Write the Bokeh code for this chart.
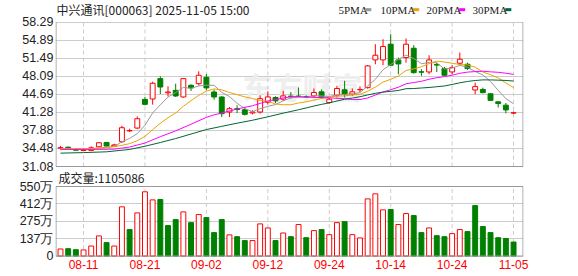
import pandas as pd
from bokeh.plotting import figure
from bokeh.models import Range1d, FixedTicker, Label, Grid, ColumnDataSource
from bokeh.embed import file_html
from bokeh.resources import INLINE

# ---------------- data ----------------
title_text = "中兴通讯[000063] 2025-11-05 15:00"
volume_title = "成交量:1105086"

dates = ["08-06", "08-07", "08-08", "08-11", "08-12", "08-13", "08-14", "08-15",
         "08-18", "08-19", "08-20", "08-21", "08-22", "08-25", "08-26", "08-27", "08-28", "08-29",
         "09-01", "09-02", "09-03", "09-04", "09-05", "09-08", "09-09", "09-10", "09-11", "09-12",
         "09-15", "09-16", "09-17", "09-18", "09-19", "09-22", "09-23", "09-24", "09-25", "09-26",
         "09-29", "09-30", "10-09", "10-10", "10-13", "10-14", "10-15", "10-16", "10-17",
         "10-20", "10-21", "10-22", "10-23", "10-24", "10-27", "10-28", "10-29", "10-30", "10-31",
         "11-03", "11-04", "11-05"]

opens = [34.55, 34.72, 34.30, 34.10, 34.11, 34.80, 35.62, 34.95, 35.75, 37.80,
         38.33, 43.74, 43.81, 47.65, 44.98, 45.44, 44.19, 46.39, 46.70, 47.90,
         45.13, 44.19, 41.35, 41.98, 41.79, 41.18, 41.35, 43.20, 44.09, 43.77,
         44.35, 44.35, 44.25, 44.40, 45.16, 43.14, 44.53, 45.54, 44.72, 45.55,
         45.95, 51.18, 51.18, 54.14, 51.18, 51.62, 53.38, 48.95, 48.91, 50.30,
         49.54, 48.91, 50.55, 50.36, 45.51, 45.60, 44.80, 43.27, 42.65, 41.15]
highs = [34.95, 34.85, 34.40, 34.30, 34.87, 35.60, 35.65, 35.37, 38.77, 38.20,
         40.53, 44.19, 47.08, 48.09, 46.20, 46.70, 47.70, 46.58, 49.03, 48.50,
         45.57, 44.31, 42.30, 42.61, 42.30, 41.67, 44.50, 45.25, 44.31, 45.35,
         45.13, 45.98, 44.50, 45.79, 45.60, 44.00, 46.29, 47.24, 45.79, 46.20,
         50.23, 54.14, 55.08, 56.03, 51.62, 55.21, 53.95, 49.42, 52.06, 50.67,
         49.86, 50.17, 52.56, 50.67, 46.90, 45.95, 44.85, 43.35, 43.05, 41.45]
lows = [34.30, 34.40, 34.05, 34.00, 33.98, 34.75, 34.90, 34.87, 35.56, 37.64,
        38.14, 42.61, 42.74, 44.75, 44.31, 44.19, 44.06, 45.32, 46.33, 45.40,
        43.68, 40.41, 40.41, 41.16, 40.72, 40.91, 41.04, 42.75, 43.05, 43.46,
        43.87, 44.10, 44.00, 44.09, 43.90, 42.90, 44.09, 44.09, 44.40, 45.10,
        45.76, 50.36, 50.17, 50.04, 48.47, 50.67, 48.60, 48.16, 48.47, 48.90,
        48.20, 48.47, 50.17, 49.29, 44.69, 44.88, 43.43, 42.20, 41.10, 40.95]
closes = [34.62, 34.49, 34.15, 34.20, 34.61, 35.56, 34.93, 35.15, 38.39, 37.85,
          40.09, 42.80, 46.77, 46.07, 45.13, 44.38, 47.65, 45.89, 48.28, 45.90,
          44.19, 41.04, 41.98, 41.83, 40.91, 41.35, 43.87, 44.20, 43.46, 44.40,
          44.25, 44.30, 44.20, 45.03, 44.09, 43.77, 45.79, 44.72, 45.16, 45.62,
          50.04, 52.06, 53.70, 50.17, 50.42, 54.14, 48.78, 48.86, 51.18, 50.20,
          48.28, 49.73, 51.30, 49.54, 46.14, 45.01, 43.55, 42.95, 41.75, 41.22]

# volume in 万 (10k), and whether the bar is drawn as "up" (hollow red)
vol_wan = [55.5, 58, 50, 48, 79, 159, 106, 79, 389, 209,
           341, 508, 444, 447, 241, 288, 349, 264, 328, 304,
           185, 288, 167, 153, 122, 122, 254, 222, 122, 182,
           153, 249, 145, 201, 209, 169, 264, 272, 169, 143,
           452, 492, 365, 368, 249, 336, 320, 185, 222, 161,
           153, 177, 209, 193, 399, 233, 185, 145, 138, 110.5]
vol_up = [1, 0, 0, 1, 1, 1, 0, 1, 1, 0,
          1, 1, 1, 0, 0, 0, 1, 0, 1, 0,
          0, 0, 1, 0, 0, 1, 1, 1, 0, 1,
          0, 1, 0, 1, 0, 1, 1, 0, 1, 1,
          1, 1, 1, 0, 1, 1, 0, 0, 1, 0,
          0, 1, 1, 0, 0, 0, 0, 0, 0, 0]

# moving averages: values for bars before each window is full
ma_windows = [5, 10, 20, 30]
ma_names = ["5PMA", "10PMA", "20PMA", "30PMA"]
ma5_early_idx = [0, 3]
ma5_early_val = [34.45, 34.40]
ma10_early_idx = [0, 4, 6, 8]
ma10_early_val = [34.40, 34.46, 34.60, 35.07]
ma20_early_idx = [0, 4, 7, 9, 11, 13, 15, 17]
ma20_early_val = [34.30, 34.30, 34.35, 34.75, 35.50, 36.70, 37.80, 39.05]
ma30_early_idx = [0, 3, 6, 9, 11, 13, 15, 17, 19, 21, 23, 25, 27]
ma30_early_val = [33.60, 33.70, 33.85, 34.30, 34.90, 35.60, 36.35, 37.20, 38.05, 38.65, 39.25, 39.80, 40.45]

price_tick_labels = ["31.08", "34.48", "37.88", "41.28", "44.69", "48.09", "51.49", "54.89", "58.29"]
vol_tick_values = [0, 137.5, 275, 412.5, 550]
vol_tick_labels = ["0", "137万", "275万", "412万", "550万"]
date_tick_labels = ["08-11", "08-21", "09-02", "09-12", "09-24", "10-14", "10-24", "11-05"]

# ---------------- styles ----------------
RED = "#ff0000"
GREEN = "#008000"
GRID = "#cccccc"
FRAME = "#999999"
TEXT = "#222222"
MA_COLORS = ["#999999", "#f0a000", "#ff00ff", "#006633"]

n = len(dates)
df = pd.DataFrame({"i": list(range(n)), "o": opens, "h": highs, "l": lows, "c": closes,
                   "v": vol_wan})
df["top"] = df[["o", "c"]].max(axis=1)
df["bot"] = df[["o", "c"]].min(axis=1)
df["col"] = [RED if c >= o else GREEN for o, c in zip(opens, closes)]
df["fill"] = ["white" if c >= o else GREEN for o, c in zip(opens, closes)]
df["vcol"] = [RED if u else GREEN for u in vol_up]
df["vfill"] = ["white" if u else GREEN for u in vol_up]
src = ColumnDataSource(df)

price_ticks = [float(s) for s in price_tick_labels]
tick_idx = [dates.index(d) for d in date_tick_labels]
P_LO, P_HI = price_ticks[0], price_ticks[-1]
V_LO, V_HI = vol_tick_values[0], vol_tick_values[-1]

# ---------------- layout geometry (canvas pixels) ----------------
W, H = 578, 276
FL, FR, FB = 55, 523, 257          # frame left / right / bottom (top = 0)
BAR0_PX, BAR_STEP = 60.0, 7.679    # first bar centre and bar spacing
PX_TOP, PX_BOT = 21.7, 166.0       # price panel top / bottom
VX_TOP, VX_BOT = 186.0, 255.5      # volume panel top / bottom

X0 = (FL - BAR0_PX) / BAR_STEP
X1 = (FR - BAR0_PX) / BAR_STEP
kp = (P_HI - P_LO) / (PX_BOT - PX_TOP)
kv = (V_HI - V_LO) / (VX_BOT - VX_TOP)
P_START, P_END = P_LO - (FB - PX_BOT) * kp, P_HI + PX_TOP * kp
V_START, V_END = V_LO - (FB - VX_BOT) * kv, V_HI + VX_TOP * kv


def sx(px):
    return (px - BAR0_PX) / BAR_STEP


def spy(py):
    return P_END - py * kp


def vol_to_primary(v):
    return P_START + (v - V_START) / (V_END - V_START) * (P_END - P_START)


p = figure(width=W, height=H, title=None, x_range=Range1d(X0, X1),
           y_range=Range1d(P_START, P_END),
           extra_y_ranges={"vol": Range1d(V_START, V_END)},
           output_backend="svg", toolbar_location=None,
           min_border_left=FL, min_border_right=W - FR, min_border_top=0,
           min_border_bottom=H - FB, outline_line_color=None,
           background_fill_color="white", border_fill_color="white")
p.grid.visible = False

# ---- y axis: price ticks and volume ticks share the left gutter
ya = p.yaxis[0]
left_ticks = price_ticks + [vol_to_primary(v) for v in vol_tick_values]
left_labels = price_tick_labels + vol_tick_labels
ya.ticker = FixedTicker(ticks=left_ticks)
ya.major_label_overrides = {t: s for t, s in zip(left_ticks, left_labels)}
ya.axis_line_color = None
ya.major_tick_in = ya.major_tick_out = 0
ya.minor_tick_in = ya.minor_tick_out = 0
ya.major_label_text_font = "Liberation Sans"
ya.major_label_text_font_size = "12.5px"
ya.major_label_text_color = TEXT
ya.major_label_standoff = 2

xa = p.xaxis[0]
xa.ticker = FixedTicker(ticks=tick_idx)
xa.major_label_overrides = {t: s for t, s in zip(tick_idx, date_tick_labels)}
xa.axis_line_color = None
xa.major_tick_in = xa.major_tick_out = 0
xa.minor_tick_in = xa.minor_tick_out = 0
xa.major_label_text_font = "Liberation Sans"
xa.major_label_text_font_size = "12px"
xa.major_label_text_color = RED
xa.major_label_standoff = 2

# ---- grids
p.add_layout(Grid(dimension=1, ticker=FixedTicker(ticks=price_ticks), grid_line_color=GRID))
p.add_layout(Grid(dimension=1, y_range_name="vol", ticker=FixedTicker(ticks=vol_tick_values),
                  grid_line_color=GRID))
nt = len(tick_idx)
p.segment(x0=tick_idx, y0=[P_LO] * nt, x1=tick_idx, y1=[P_HI] * nt,
          line_color=GRID, line_dash="4 3", line_width=1)
p.segment(x0=tick_idx, y0=[V_LO] * nt, x1=tick_idx, y1=[V_HI] * nt,
          line_color=GRID, line_dash="4 3", line_width=1, y_range_name="vol")

# ---- watermark
p.add_layout(Label(x=sx(302), y=spy(85), text="东方财富", text_font="Noto Sans CJK SC",
                   text_font_style="bold", text_font_size="30px", text_color="#eeeeee",
                   text_align="center", text_baseline="middle", level="underlay"))

# ---- candles
p.segment(x0="i", y0="l", x1="i", y1="h", line_color="col", line_width=1, source=src)
p.vbar(x="i", width=0.64, bottom="bot", top="top", fill_color="fill", line_color="col",
       line_width=1, source=src)

# ---- moving averages
early = [(ma5_early_idx, ma5_early_val), (ma10_early_idx, ma10_early_val),
         (ma20_early_idx, ma20_early_val), (ma30_early_idx, ma30_early_val)]
cs = pd.Series(closes)
for win, (eidx, evals), colr in zip(ma_windows, early, MA_COLORS):
    full = cs.rolling(win).mean()
    xs = list(eidx) + list(range(win - 1, n))
    ys = list(evals) + list(full.iloc[win - 1:])
    p.line(xs, ys, line_color=colr, line_width=1)

# ---- volume bars
p.vbar(x="i", width=0.64, bottom=0, top="v", fill_color="vfill", line_color="vcol",
       line_width=1, source=src, y_range_name="vol")

# ---- panel borders (half a pixel inside the frame)
XL, XR = sx(FL + 0.5), sx(FR - 0.5)
p.segment(x0=[XL, XR, XL], y0=[P_LO, P_LO, P_LO], x1=[XL, XR, XR], y1=[P_HI, P_HI, P_LO],
          line_color=FRAME, line_width=1)
p.segment(x0=[XL, XR, XL, XL], y0=[V_LO, V_LO, V_LO, V_HI], x1=[XL, XR, XR, XR],
          y1=[V_HI, V_HI, V_LO, V_HI], line_color=FRAME, line_width=1, y_range_name="vol")

# ---- title, legend, volume caption
p.add_layout(Label(x=sx(56), y=spy(8.5), text=title_text, text_font="Noto Sans CJK SC",
                   text_font_size="12px", text_color=TEXT, text_baseline="middle"))
legend_text_px = [338, 380, 426, 472]
legend_mark_px = [367.5, 415.5, 461.5, 507.5]
for name, colr, tx, mx in zip(ma_names, MA_COLORS, legend_text_px, legend_mark_px):
    p.add_layout(Label(x=sx(tx), y=spy(9), text=name, text_font="Liberation Serif",
                       text_font_size="11px", text_color=TEXT, text_baseline="middle"))
    p.add_layout(Label(x=sx(mx), y=spy(9), text="▬", text_font="DejaVu Sans",
                       text_font_size="8px", text_color=colr, text_baseline="middle",
                       text_align="center"))
p.add_layout(Label(x=sx(58), y=spy(177), text=volume_title, text_font="Noto Sans CJK SC",
                   text_font_size="12px", text_color=TEXT, text_baseline="middle"))

open("out.html", "w").write(file_html(p, INLINE))
